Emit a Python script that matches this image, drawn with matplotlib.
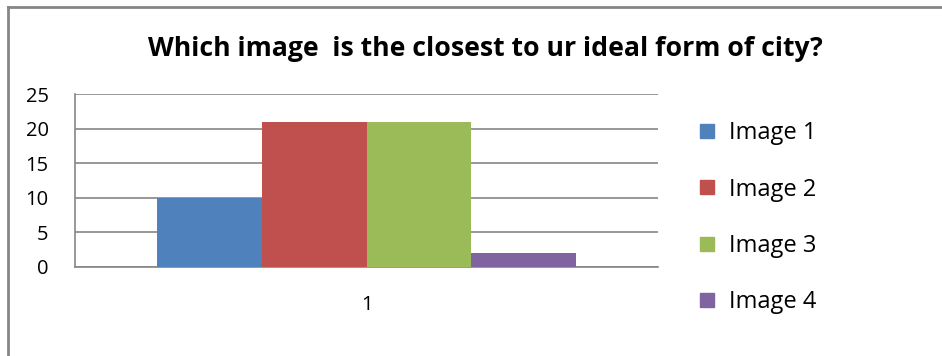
import matplotlib
matplotlib.use("Agg")
import matplotlib.pyplot as plt
from matplotlib.lines import Line2D

title = "Which image  is the closest to ur ideal form of city?"
categories = ["1"]
series_names = ["Image 1", "Image 2", "Image 3", "Image 4"]
series_values = [10, 21, 21, 2]
colors = ["#4f81bd", "#c0504d", "#9bbb59", "#8064a2"]
yticks = [0, 5, 10, 15, 20, 25]

W, H = 942, 356
fig = plt.figure(figsize=(W / 100, H / 100), dpi=100)
font = ["Open Sans", "DejaVu Sans"]

# plot area: x 75..658, y 94..267 (pixels from top)
ax = fig.add_axes([75 / W, 1 - 267 / H, (658 - 75) / W, (267 - 94) / H])
n = len(series_names)
bw = 0.18
for i, (name, v, c) in enumerate(zip(series_names, series_values, colors)):
    ax.bar(0 + (i - (n - 1) / 2) * bw, v, width=bw, color=c, label=name, zorder=3)
ax.set_xlim(-0.5, 0.5)
ax.set_ylim(0, 25)
ax.set_yticks(yticks)
ax.set_yticklabels([str(t) for t in yticks], fontfamily=font, fontsize=14.5)
ax.set_xticks([0])
ax.set_xticklabels(categories, fontfamily=font, fontsize=14.5)
ax.tick_params(axis="both", length=0)
ax.tick_params(axis="y", pad=19)
ax.tick_params(axis="x", pad=20)
ax.grid(axis="y", color="#868686", linewidth=1.2, zorder=0)
for s in ["top", "right"]:
    ax.spines[s].set_visible(False)
ax.spines["left"].set_color("#868686")
ax.spines["bottom"].set_color("#868686")
ax.spines["left"].set_linewidth(1.2)
ax.spines["bottom"].set_linewidth(1.2)

fig.text(485 / W, 1 - 49 / H, title, ha="center", va="center",
         fontfamily=font, fontsize=19.2, fontweight="bold")

handles = [Line2D([0], [0], marker="s", linestyle="none", markersize=10,
                  markerfacecolor=c, markeredgecolor=c) for c in colors]
leg = fig.legend(handles, series_names, loc="upper left",
                 bbox_to_anchor=(674 / W, 1 - 100 / H), frameon=False,
                 prop={"family": font, "size": 17}, labelspacing=1.37,
                 handletextpad=0.45, handlelength=1.0)

# outer border (left and top only, as in the cropped reference)
fig.add_artist(Line2D([8 / W, 8 / W], [0, 1 - 7 / H], color="#868686",
                      linewidth=2, transform=fig.transFigure))
fig.add_artist(Line2D([8 / W, 1], [1 - 7 / H, 1 - 7 / H], color="#868686",
                      linewidth=2, transform=fig.transFigure))

fig.savefig("out.png", dpi=100)
